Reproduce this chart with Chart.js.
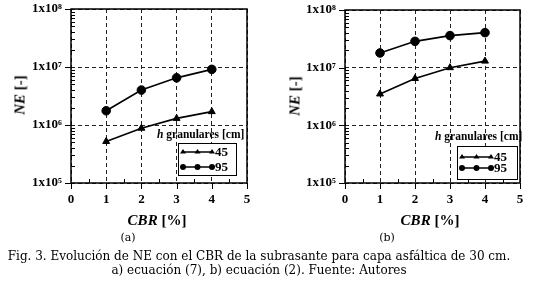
<!DOCTYPE html>
<html>
<head>
<meta charset="utf-8">
<script src="https://cdn.jsdelivr.net/npm/chart.js@4.4.0/dist/chart.umd.min.js"></script>
<style>
  body { margin: 0; background: #fff; width: 550px; height: 301px; overflow: hidden; position: relative; }
  canvas { position: absolute; top: 0; }
  .t { position: absolute; white-space: nowrap; color: #000; font-family: "Liberation Serif", serif; font-weight: bold; font-size: 15px; line-height: 1; }
  .yt { transform: translate(-50%, -50%) rotate(-90deg); }
  .xt { transform: translate(-50%, -50%); }
  .sub { position: absolute; transform: translate(-50%, -50%); font-family: "DejaVu Serif", serif; font-size: 11px; color: #000; white-space: nowrap; }
  .cap { position: absolute; left: 0; width: 518px; text-align: center; font-family: "DejaVu Serif", serif; font-size: 12px; color: #000; white-space: nowrap; }
</style>
</head>
<body>
<canvas id="chart_a" width="275" height="232" style="left:0"></canvas>
<canvas id="chart_b" width="275" height="232" style="left:275px"></canvas>

<div class="t yt" style="left:20px;top:95px"><i>NE</i> [-]</div>
<div class="t yt" style="left:295px;top:96px"><i>NE</i> [-]</div>
<div class="t xt" style="left:157px;top:220px"><i>CBR</i> [%]</div>
<div class="t xt" style="left:430px;top:220px"><i>CBR</i> [%]</div>
<div class="sub" style="left:128px;top:237px">(a)</div>
<div class="sub" style="left:387px;top:237px">(b)</div>
<div class="cap" style="top:249px">Fig. 3. Evolución de NE con el CBR de la subrasante para capa asfáltica de 30 cm.</div>
<div class="cap" style="top:263px">a) ecuación (7), b) ecuación (2). Fuente: Autores</div>

<script>
// ── data ────────────────────────────────────────────────
const cbr         = [1, 2, 3, 4];
const xTicks      = [0, 1, 2, 3, 4, 5];
const yTicks      = [1e5, 1e6, 1e7, 1e8];
const yTickLabels = ["1x10⁵", "1x10⁶", "1x10⁷", "1x10⁸"];
const seriesNames = ["45", "95"];
const legendTitle = "granulares [cm]";

// (a) ecuación (7)
const neA45 = [5.2e5, 8.8e5, 1.3e6, 1.7e6];
const neA95 = [1.76e6, 4.0e6, 6.5e6, 9.1e6];
// (b) ecuación (2)
const neB45 = [3.5e6, 6.5e6, 1.0e7, 1.3e7];
const neB95 = [1.8e7, 2.86e7, 3.6e7, 4.05e7];

const FONT = "Liberation Serif";
const CANVAS_W = 275, CANVAS_H = 232;

function marker(ctx, style, x, y, r) {
  ctx.beginPath();
  if (style === "circle") {
    ctx.arc(x, y, r, 0, Math.PI * 2);
  } else {
    const h = r * 1.5;
    ctx.moveTo(x, y - h * 0.66);
    ctx.lineTo(x + r, y + h * 0.34);
    ctx.lineTo(x - r, y + h * 0.34);
    ctx.closePath();
  }
  ctx.fill();
}

// khung + vạch chia + legend bên trong
const framePlugin = {
  id: "frame",
  afterDraw(chart, args, opts) {
    const ctx = chart.ctx;
    const a = chart.chartArea;
    const xs = chart.scales.x, ys = chart.scales.y;
    ctx.save();
    ctx.strokeStyle = "#000";
    ctx.setLineDash([]);

    ctx.lineWidth = 1;
    ctx.beginPath();
    // y: chính hướng ra ngoài, phụ hướng vào trong
    for (let e = 5; e <= 8; e++) {
      for (let m = 1; m < 10; m++) {
        if (e === 8 && m > 1) break;
        const py = Math.round(ys.getPixelForValue(m * Math.pow(10, e))) + 0.5;
        if (m === 1) { ctx.moveTo(a.left - 6, py); ctx.lineTo(a.left, py); }
        else { ctx.moveTo(a.left, py); ctx.lineTo(a.left + 4, py); }
      }
    }
    // x: mỗi 0.5
    for (let v = 0; v <= 5; v += 0.5) {
      const px = Math.round(xs.getPixelForValue(v)) + 0.5;
      if (Number.isInteger(v)) { ctx.moveTo(px, a.bottom); ctx.lineTo(px, a.bottom + 6); }
      else { ctx.moveTo(px, a.bottom); ctx.lineTo(px, a.bottom - 4); }
    }
    ctx.stroke();

    ctx.lineWidth = 1.5;
    ctx.strokeRect(a.left, a.top, a.right - a.left, a.bottom - a.top);

    // legend
    const L = opts.box;
    ctx.font = `italic bold 11.5px ${FONT}`;
    ctx.fillStyle = "#000";
    ctx.textBaseline = "alphabetic";
    ctx.textAlign = "left";
    const hW = ctx.measureText("h ").width;
    ctx.fillText("h", L.titleX, L.titleY);
    ctx.font = `bold 11.5px ${FONT}`;
    ctx.fillText(legendTitle, L.titleX + hW, L.titleY);

    ctx.fillStyle = "#fff";
    ctx.fillRect(L.x, L.y, L.w, L.h);
    ctx.lineWidth = 1;
    ctx.strokeStyle = "#000";
    ctx.strokeRect(L.x + 0.5, L.y + 0.5, L.w, L.h);

    chart.data.datasets.forEach((ds, i) => {
      const ry = L.y + L.row0 + i * L.dy;
      const x1 = L.x + 5, x2 = L.x + 34;
      ctx.strokeStyle = "#000";
      ctx.fillStyle = "#000";
      ctx.lineWidth = 1.5;
      ctx.beginPath();
      ctx.moveTo(x1, ry);
      ctx.lineTo(x2, ry);
      ctx.stroke();
      [x1, (x1 + x2) / 2, x2].forEach((px) => marker(ctx, ds.pointStyle, px, ry, 3));
      ctx.font = `bold 13px ${FONT}`;
      ctx.textBaseline = "middle";
      ctx.fillText(ds.label, x2 + 3, ry + 1);
    });
    ctx.restore();
  },
};

function makePanel(id, d45, d95, area, box) {
  const c2d = document.getElementById(id).getContext("2d");
  const pts = (arr) => cbr.map((x, i) => ({ x, y: arr[i] }));
  const base = { borderColor: "#000", backgroundColor: "#000", borderWidth: 1.6, tension: 0, pointBorderWidth: 1 };
  return new Chart(c2d, {
    type: "line",
    data: {
      datasets: [
        { ...base, label: seriesNames[0], data: pts(d45), pointStyle: "triangle", pointRadius: 4 },
        { ...base, label: seriesNames[1], data: pts(d95), pointStyle: "circle", pointRadius: 4.3 },
      ],
    },
    options: {
      responsive: false,
      animation: false,
      events: [],
      layout: { padding: { top: area.top, right: CANVAS_W - area.right, left: 0, bottom: 0 } },
      plugins: { legend: { display: false }, tooltip: { enabled: false }, frame: { box } },
      scales: {
        x: {
          type: "linear", min: 0, max: 5,
          afterBuildTicks: (s) => { s.ticks = xTicks.map((v) => ({ value: v })); },
          afterFit: (s) => { s.height = CANVAS_H - area.bottom; s.paddingLeft = 0; s.paddingRight = 0; },
          grid: { color: "#222", lineWidth: 1, drawTicks: false },
          border: { display: false, dash: [4, 3] },
          ticks: { padding: 9, color: "#000", font: { family: FONT, weight: "bold", size: 13 } },
        },
        y: {
          type: "logarithmic", min: 1e5, max: 1e8,
          afterBuildTicks: (s) => { s.ticks = yTicks.map((v) => ({ value: v })); },
          afterFit: (s) => { s.width = area.left; s.paddingTop = 0; s.paddingBottom = 0; },
          grid: { color: "#222", lineWidth: 1, drawTicks: false },
          border: { display: false, dash: [4, 3] },
          ticks: {
            padding: 9, color: "#000", font: { family: FONT, weight: "bold", size: 13 },
            callback: (v) => yTickLabels[yTicks.indexOf(v)],
          },
        },
      },
    },
    plugins: [framePlugin],
  });
}

makePanel("chart_a", neA45, neA95, { left: 71, right: 247, top: 9, bottom: 183 },
  { x: 178, y: 143, w: 58, h: 32, row0: 9, dy: 15, titleX: 157, titleY: 138 });
makePanel("chart_b", neB45, neB95, { left: 70, right: 245, top: 10, bottom: 183 },
  { x: 182, y: 146, w: 60, h: 33, row0: 11, dy: 11, titleX: 160, titleY: 140 });
</script>
</body>
</html>
